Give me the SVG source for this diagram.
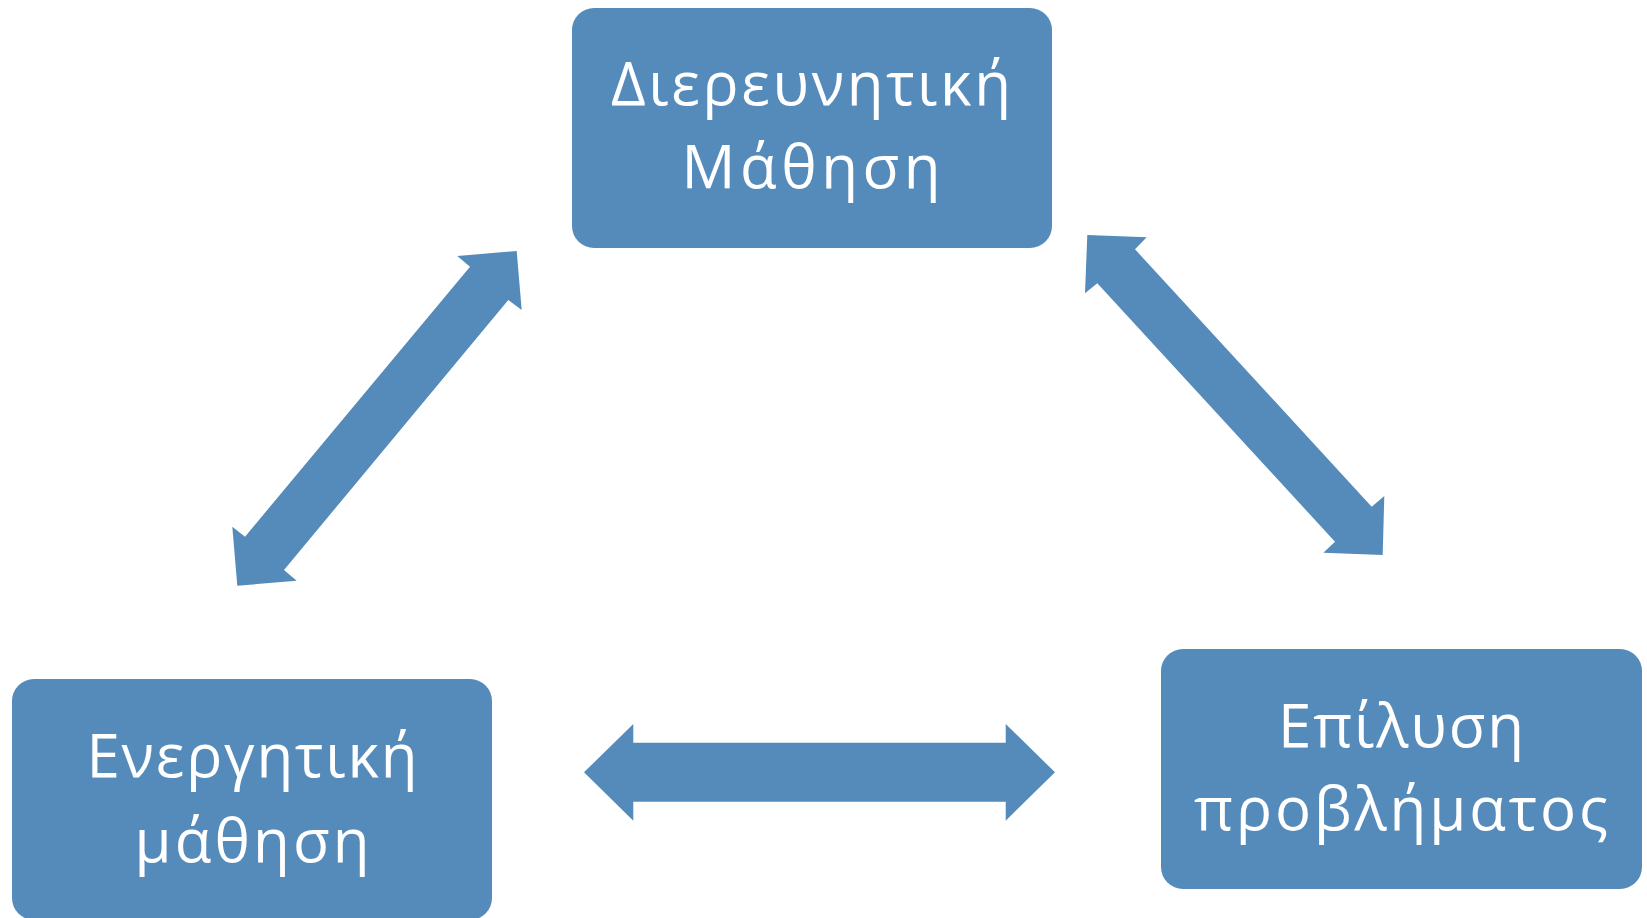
<svg xmlns="http://www.w3.org/2000/svg" width="1647" height="918" viewBox="0 0 1647 918">
<style>
.box{fill:#558BBA}
.arr{fill:#558BBA}
.t{font-family:"Open Sans","Noto Sans","DejaVu Sans",sans-serif;font-size:60px;fill:#FFFFFF;text-anchor:middle}
</style>
<rect width="1647" height="918" fill="#FFFFFF"/>
<g id="connectors">
<polygon class="arr" points="516.7,251 457.3,256 470,266.7 245,536.7 232.3,526.7 237.3,585.7 296.7,580.7 284,570 508.3,300 521.7,310"/>
<polygon class="arr" points="1087.3,235 1146.7,237.3 1135,249.3 1371.7,506.7 1384.3,496 1382.7,555 1323.3,552.7 1335,541.7 1097.3,283.3 1085,293.3"/>
<polygon class="arr" points="584,772.3 633.3,724 633.3,742.7 1005.7,742.7 1005.7,724 1055,772.3 1005.7,820.7 1005.7,801.7 633.3,801.7 633.3,820.7"/>
</g>
<g id="node-top">
<rect class="box" x="572" y="8" width="480" height="240" rx="22"/>
<text class="t" x="811" y="105" textLength="400" lengthAdjust="spacing">Διερευνητική</text>
<text class="t" x="811" y="188" textLength="259" lengthAdjust="spacing">Μάθηση</text>
</g>
<g id="node-left">
<rect class="box" x="12" y="679" width="480" height="241" rx="22"/>
<text class="t" x="252" y="777" textLength="331" lengthAdjust="spacing">Ενεργητική</text>
<text class="t" x="252" y="862" textLength="235" lengthAdjust="spacing">μάθηση</text>
</g>
<g id="node-right">
<rect class="box" x="1161" y="649" width="481" height="240" rx="22"/>
<text class="t" x="1401" y="747" textLength="246" lengthAdjust="spacing">Επίλυση</text>
<text class="t" x="1401" y="830" textLength="414" lengthAdjust="spacing">προβλήματος</text>
</g>
</svg>
